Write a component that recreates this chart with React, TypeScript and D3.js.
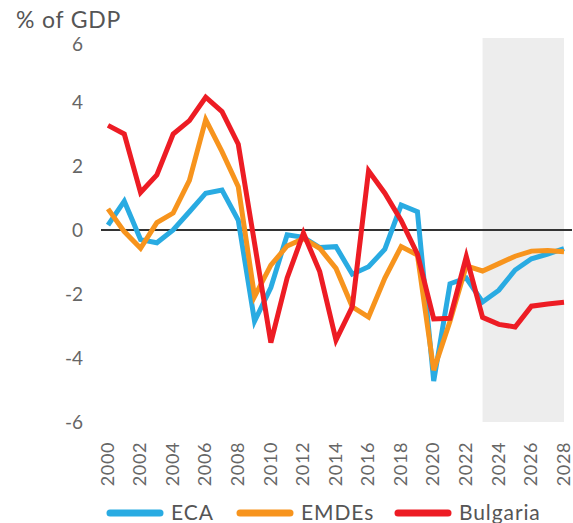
import { useMemo } from 'react';
import * as d3 from 'd3';

const years = d3.range(2000, 2029);
const yTicks = [6, 4, 2, 0, -2, -4, -6];
const xTicks = d3.range(2000, 2029, 2);

const ecaValues = [
  0.15, 0.9, -0.3, -0.4, 0.0, 0.57, 1.15, 1.25, 0.3, -2.85, -1.8, -0.15, -0.23, -0.55, -0.52,
  -1.38, -1.15, -0.6, 0.78, 0.57, -4.72, -1.68, -1.5, -2.25, -1.88, -1.25, -0.9, -0.75, -0.58,
];
const emdeValues = [
  0.66, -0.05, -0.57, 0.23, 0.53, 1.55, 3.45, 2.45, 1.35, -2.08, -1.1, -0.5, -0.27, -0.57, -1.2,
  -2.4, -2.72, -1.5, -0.52, -0.78, -4.38, -2.85, -1.12, -1.28, -1.05, -0.82, -0.66, -0.64, -0.68,
];
const bulgariaValues = [
  3.27, 3.0, 1.17, 1.72, 3.0, 3.42, 4.15, 3.7, 2.68, -0.42, -3.52, -1.5, -0.1, -1.3, -3.44,
  -2.4, 1.85, 1.15, 0.3, -0.75, -2.78, -2.76, -0.83, -2.73, -2.95, -3.03, -2.38, -2.31, -2.26,
];

const forecastStart = 2023;
const forecastEnd = 2028;

const series = [
  { name: 'ECA', values: ecaValues, color: '#29ABE2' },
  { name: 'EMDEs', values: emdeValues, color: '#F7941D' },
  { name: 'Bulgaria', values: bulgariaValues, color: '#ED1C24' },
];

const WIDTH = 573;
const HEIGHT = 523;
const FONT = 'Lato, "Open Sans", sans-serif';

export default function App() {
  const x = useMemo(() => d3.scaleLinear().domain([2000, 2028]).range([108, 564]), []);
  const y = useMemo(() => d3.scaleLinear().domain([-6, 6]).range([422, 38]), []);

  const line = d3
    .line<number>()
    .x((_, i) => x(years[i]))
    .y((d) => y(d));

  // legend positions
  const legendX = [107, 237, 395];

  return (
    <svg
      width={WIDTH}
      height={HEIGHT}
      style={{ position: 'absolute', left: 0, top: 0, background: '#fff' }}
      fontFamily={FONT}
    >
      {/* forecast shading */}
      <rect
        x={x(forecastStart)}
        y={y(6)}
        width={x(forecastEnd) - x(forecastStart)}
        height={y(-6) - y(6)}
        fill="#EDEDED"
      />

      {/* y axis label */}
      <text x={16} y={28} fontSize={23} letterSpacing={0.8} fill="#555">
        % of GDP
      </text>

      {/* y tick labels (top one sits a bit lower, under the unit label) */}
      {yTicks.map((t) => (
        <text
          key={t}
          x={83}
          y={Math.max(y(t), 44)}
          dy="0.36em"
          textAnchor="end"
          fontSize={19}
          fill="#666"
        >
          {t}
        </text>
      ))}

      {/* zero line */}
      <line x1={101} x2={572} y1={y(0)} y2={y(0)} stroke="#333" strokeWidth={2} />

      {/* series */}
      {series.map((s) => (
        <path
          key={s.name}
          d={line(s.values) ?? ''}
          fill="none"
          stroke={s.color}
          strokeWidth={5}
          strokeLinejoin="miter"
        />
      ))}

      {/* x tick labels */}
      {xTicks.map((t) => (
        <text
          key={t}
          transform={`translate(${x(t)},442) rotate(-90)`}
          dy="0.32em"
          textAnchor="end"
          fontSize={18}
          letterSpacing={0.6}
          fill="#666"
        >
          {t}
        </text>
      ))}

      {/* legend */}
      {series.map((s, i) => (
        <g key={s.name} transform={`translate(${legendX[i]},513)`}>
          <line
            x1={3}
            x2={53}
            y1={0}
            y2={0}
            stroke={s.color}
            strokeWidth={7}
            strokeLinecap="round"
          />
          <text x={64} y={0} dy="0.34em" fontSize={21} letterSpacing={0.9} fill="#555">
            {s.name}
          </text>
        </g>
      ))}
    </svg>
  );
}
